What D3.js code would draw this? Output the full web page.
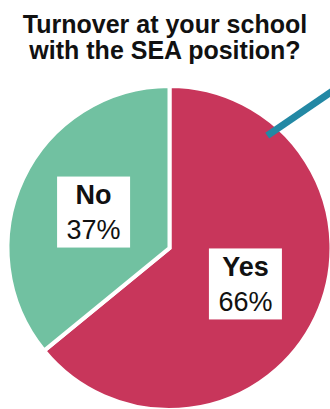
<!DOCTYPE html>
<html>
<head>
<meta charset="utf-8">
<script src="https://cdn.jsdelivr.net/npm/d3@7"></script>
<style>
  html, body { margin: 0; padding: 0; background: #fff; }
  svg { display: block; }
</style>
</head>
<body>
<svg id="chart" width="330" height="409"></svg>
<script>
// Survey answers and their shares (percent)
const categories = ["Yes", "No"];
const values = [66, 37];
const valueLabels = ["66%", "37%"];
const titleLines = ["Turnover at your school", "with the SEA position?"];

const width = 330, height = 409;
const cx = 169.5, cy = 248, radius = 162;
const colors = d3.scaleOrdinal().domain(categories).range(["#C8365B", "#71C1A1"]);

const svg = d3.select("#chart");

// Title
svg.append("text")
  .attr("x", 165)
  .attr("y", 33)
  .attr("text-anchor", "middle")
  .style("font-family", "'Liberation Sans', Arial, sans-serif")
  .style("font-weight", "bold")
  .style("font-size", "25px")
  .attr("fill", "#111")
  .selectAll("tspan")
  .data(titleLines)
  .join("tspan")
  .attr("x", 165)
  .attr("dy", (d, i) => i === 0 ? 0 : 26)
  .text(d => d);

const g = svg.append("g").attr("transform", `translate(${cx},${cy})`);

const pie = d3.pie().sort(null).value(d => d.value);
const arcs = pie(categories.map((c, i) => ({ name: c, value: values[i], label: valueLabels[i] })));
const arc = d3.arc().innerRadius(0).outerRadius(radius);
const labelArc = d3.arc().innerRadius(84).outerRadius(84);

g.selectAll("path.slice")
  .data(arcs)
  .join("path")
  .attr("class", "slice")
  .attr("d", arc)
  .attr("fill", d => colors(d.data.name))
  .attr("stroke", "#fff")
  .attr("stroke-width", 4)
  .attr("stroke-linejoin", "miter");

// Teal leader line coming in from the upper right
const leader = [d3.pointRadial(41 * Math.PI / 180, 149), d3.pointRadial(47 * Math.PI / 180, 250)];
g.append("line")
  .attr("x1", leader[0][0]).attr("y1", leader[0][1])
  .attr("x2", leader[1][0]).attr("y2", leader[1][1])
  .attr("stroke", "#2388A4")
  .attr("stroke-width", 7);

// Boxed labels at slice centroids
const boxW = 73, boxH = 71;
const lbl = g.selectAll("g.lbl")
  .data(arcs)
  .join("g")
  .attr("class", "lbl")
  .attr("transform", d => `translate(${labelArc.centroid(d)})`);

lbl.append("rect")
  .attr("x", -boxW / 2)
  .attr("y", -boxH / 2)
  .attr("width", boxW)
  .attr("height", boxH)
  .attr("fill", "#fff");

const t = lbl.append("text")
  .attr("text-anchor", "middle")
  .style("font-family", "'Liberation Sans', Arial, sans-serif")
  .style("font-size", "27px")
  .attr("fill", "#111");

t.append("tspan")
  .attr("x", 0)
  .attr("y", -8)
  .style("font-weight", "bold")
  .text(d => d.data.name);

t.append("tspan")
  .attr("x", 0)
  .attr("y", 27)
  .text(d => d.data.label);
</script>
</body>
</html>
